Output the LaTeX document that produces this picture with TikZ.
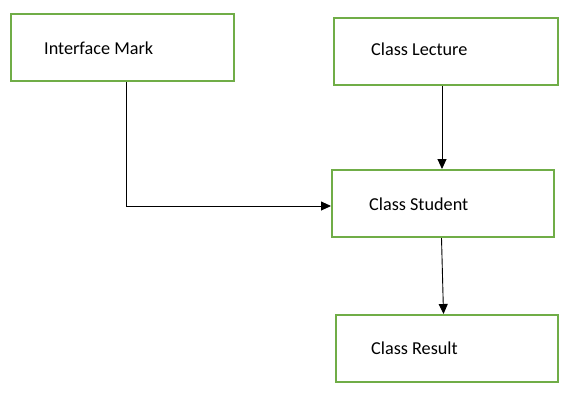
\documentclass[tikz,border=0pt]{standalone}
\usepackage{fontspec}
\setmainfont{Carlito}
\usetikzlibrary{arrows.meta}
\definecolor{boxgreen}{HTML}{70AD47}
\begin{document}
\begin{tikzpicture}[x=1pt,y=-1pt,
  box/.style={draw=boxgreen,line width=2pt,minimum width=#1,minimum height=67pt,inner sep=0pt,anchor=north west},
  lbl/.style={anchor=base west,inner sep=0pt,font=\fontsize{18.2pt}{21pt}\selectfont},
  conn/.style={line width=0.9pt,-{Triangle[length=10pt,width=9pt]}}]
\useasboundingbox[fill=white] (0,0) rectangle (581,400);
\node[box=223pt] (im) at (10,13) {};
\node[box=224pt] (lec) at (333,17) {};
\node[box=222pt] (st) at (331,169) {};
\node[box=222pt] (res) at (335,314) {};
\node[lbl] (imt) at (44,54) {Interface Mark};
\node[lbl] (lect) at (371,55) {Class Lecture};
\node[lbl] (stt) at (369,210) {Class Student};
\node[lbl] (rest) at (371,354) {Class Result};
\draw[conn] ([xshift=3.5pt]im.south) |- ([yshift=-2.5pt]st.west);
\draw[conn] ([xshift=-4pt]lec.south) -- ([xshift=-4pt]lec.south |- st.north);
\draw[conn] ([xshift=-1.5pt]st.south) -- ([xshift=-3.5pt]res.north);
\end{tikzpicture}
\end{document}
